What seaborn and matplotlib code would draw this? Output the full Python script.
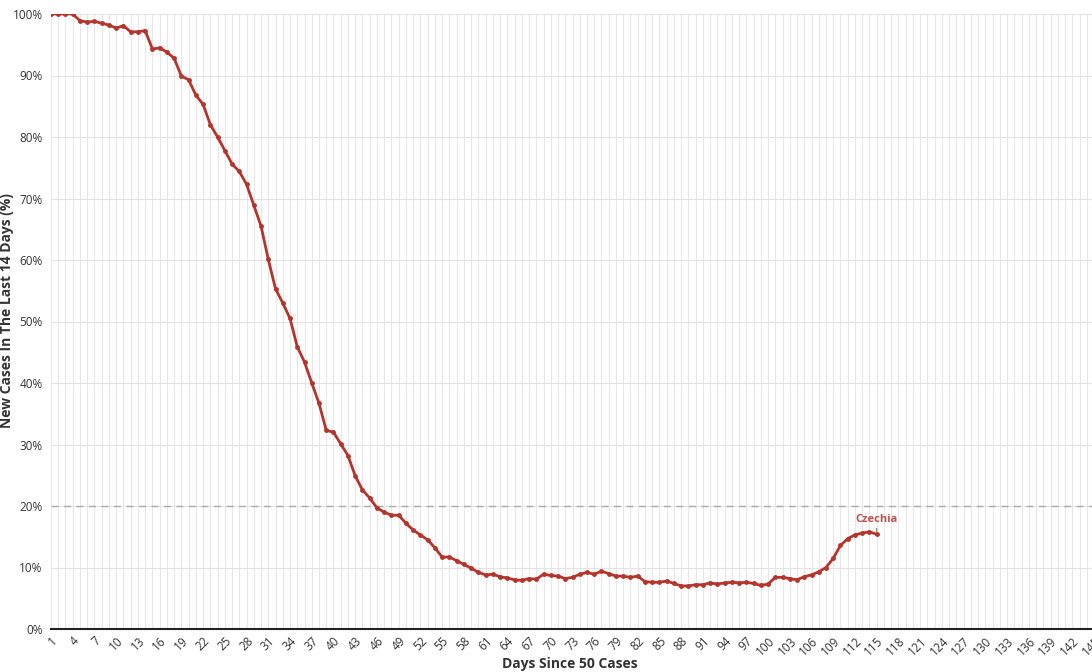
import matplotlib
matplotlib.use("Agg")
import matplotlib.pyplot as plt
import seaborn as sns
import pandas as pd
import numpy as np
from matplotlib.ticker import FuncFormatter, MultipleLocator

# ---- data ----
country = "Czechia"
days = list(range(1, 116))
pct = [
    100.0, 100.0, 100.0, 100.0, 98.9, 98.7, 98.8, 98.5, 98.2, 97.7,
    98.1, 97.1, 97.1, 97.3, 94.3, 94.5, 93.8, 92.8, 89.9, 89.3,
    86.8, 85.3, 82.0, 80.0, 77.8, 75.6, 74.4, 72.3, 68.9, 65.5,
    60.1, 55.3, 53.0, 50.5, 45.9, 43.4, 40.0, 36.7, 32.3, 32.0,
    30.1, 28.2, 24.9, 22.6, 21.3, 19.7, 19.0, 18.5, 18.5, 17.2,
    16.1, 15.3, 14.5, 13.2, 11.7, 11.7, 11.1, 10.5, 9.9, 9.2,
    8.8, 8.9, 8.5, 8.3, 8.0, 7.9, 8.2, 8.1, 8.9, 8.7,
    8.6, 8.2, 8.4, 8.9, 9.2, 8.9, 9.4, 9.0, 8.6, 8.6,
    8.4, 8.6, 7.7, 7.6, 7.6, 7.8, 7.4, 7.0, 7.0, 7.2,
    7.2, 7.5, 7.3, 7.5, 7.6, 7.5, 7.6, 7.4, 7.1, 7.3,
    8.4, 8.4, 8.2, 8.0, 8.5, 8.8, 9.3, 10.0, 11.5, 13.6,
    14.7, 15.3, 15.6, 15.8, 15.4,
]
threshold = 20
x_ticks = list(range(1, 146, 3))
y_ticks = list(range(0, 101, 10))

df = pd.DataFrame({"day": days, "pct": pct, "country": country})

sns.set_theme(style="white")
plt.rcParams["font.family"] = ["Open Sans", "DejaVu Sans"]

W, H = 1092, 672
fig = plt.figure(figsize=(W / 100, H / 100), dpi=100)
left, right, top, bottom = 51, 1094, 14, 629
ax = fig.add_axes([left / W, 1 - bottom / H, (right - left) / W, (bottom - top) / H])

line_color = "#b5342b"
sns.lineplot(data=df, x="day", y="pct", ax=ax, color=line_color, linewidth=2,
             marker="o", markersize=3.5, markeredgewidth=0, legend=False)

ax.set_xlim(1, 145)
ax.set_ylim(0, 100)

# grid
ax.xaxis.set_minor_locator(MultipleLocator(1))
ax.grid(which="minor", axis="x", color="#e8e8e8", linewidth=0.8)
ax.grid(which="major", axis="x", color="#e8e8e8", linewidth=0.8)
ax.grid(which="major", axis="y", color="#e3e3e3", linewidth=0.8)
ax.set_axisbelow(True)

ax.axhline(threshold, color="#aaaaaa", linewidth=1, linestyle=(0, (5, 4)), zorder=1)

ax.set_xticks(x_ticks)
ax.set_xticklabels([str(t) for t in x_ticks], rotation=45, ha="right",
                   rotation_mode="anchor", fontsize=8.5, color="#333333")
ax.set_yticks(y_ticks)
ax.yaxis.set_major_formatter(FuncFormatter(lambda v, p: f"{int(v)}%"))
ax.tick_params(axis="y", labelsize=8.5, labelcolor="#333333", length=0, pad=6)
ax.tick_params(axis="x", which="both", length=0, pad=4)

for s in ["left", "right", "top"]:
    ax.spines[s].set_visible(False)
ax.spines["bottom"].set_color("#222222")
ax.spines["bottom"].set_linewidth(1.5)

ax.set_xlabel("Days Since 50 Cases", fontsize=10, fontweight="bold", color="#333333")
ax.set_ylabel("New Cases In The Last 14 Days (%)", fontsize=10, fontweight="bold", color="#333333")
ax.xaxis.set_label_coords((570 - left) / (right - left), -(657 - bottom) / (bottom - top))
ax.yaxis.set_label_coords(-(left - 14) / (right - left), (bottom - 311) / (bottom - top))

# end label
ax.annotate(country, xy=(days[-1], pct[-1]), xytext=(days[-1], pct[-1] + 1.5),
            ha="center", va="bottom", fontsize=8, fontweight="bold", color="#c0504d",
            arrowprops=dict(arrowstyle="-", color="#777777", linewidth=0.8,
                            shrinkA=0, shrinkB=2))

fig.savefig("out.png", dpi=100)
